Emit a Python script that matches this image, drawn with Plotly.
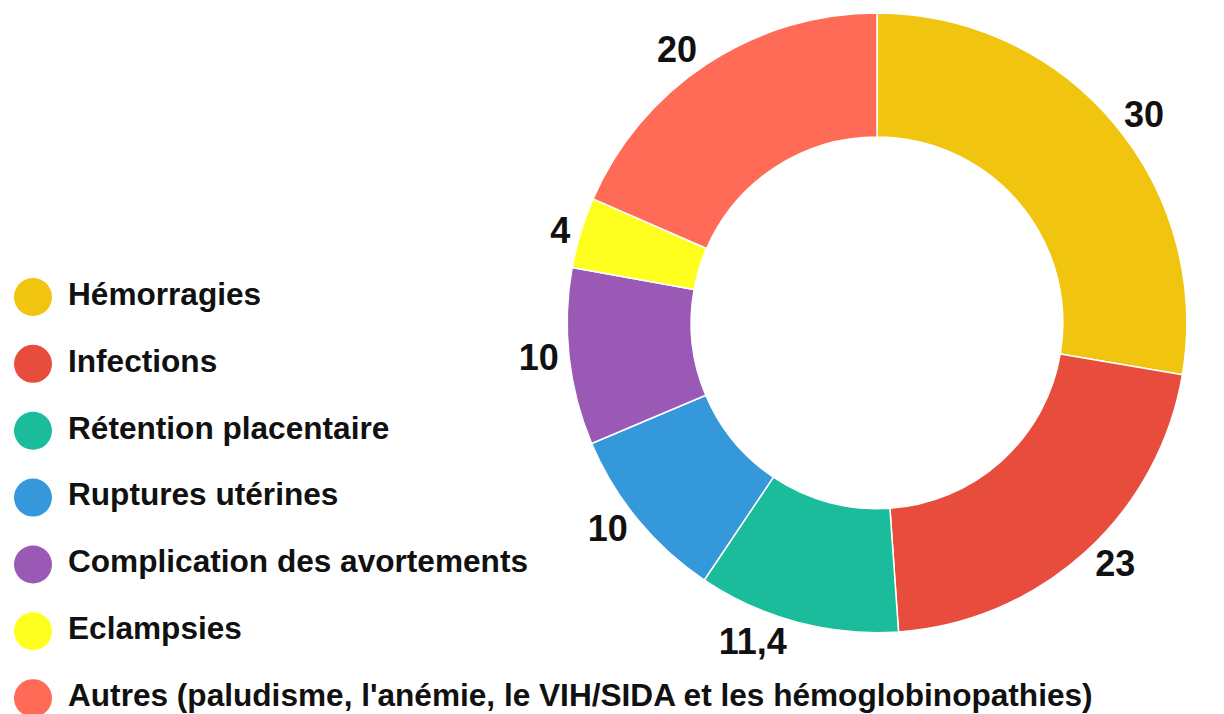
import plotly.graph_objects as go

categories = ["Hémorragies", "Infections", "Rétention placentaire", "Ruptures utérines",
              "Complication des avortements", "Eclampsies",
              "Autres (paludisme, l'anémie, le VIH/SIDA et les hémoglobinopathies)"]
values = [30, 23, 11.4, 10, 10, 4, 20]
colors = ["#F1C40F", "#E74C3C", "#1ABC9C", "#3498DB", "#9B59B6", "#FFFF1F", "#FF6B56"]

W, H = 1224, 714
FONT = "Liberation Sans, Arial, sans-serif"

fig = go.Figure()

# Donut (figure coordinates; page body adds an 8px offset)
cx, cy, r = 869, 312, 312
fig.add_trace(go.Pie(
    values=values,
    labels=categories,
    marker=dict(colors=colors, line=dict(color="white", width=1.5)),
    hole=0.6,
    sort=False,
    direction="clockwise",
    rotation=0,
    textinfo="value",
    texttemplate="<b>%{value}</b>",
    textposition="outside",
    outsidetextfont=dict(family=FONT, size=36, color="#111"),
    showlegend=False,
    hoverinfo="label+value",
    domain=dict(x=[(cx - r) / W, (cx + r) / W],
                y=[max(0, 1 - (cy + r) / H), min(1, 1 - (cy - r) / H)]),
))

# Legend drawn as a categorical scatter on its own axes
fig.add_trace(go.Scatter(
    x=[0] * len(categories), y=categories, mode="markers",
    marker=dict(size=38, color=colors, line=dict(width=0)),
    xaxis="x", yaxis="y", showlegend=False, hoverinfo="skip", cliponaxis=False,
))
fig.add_trace(go.Scatter(
    x=[1.4] * len(categories), y=categories, mode="text",
    text=["<b>" + c + "</b>" for c in categories],
    textposition="middle right",
    textfont=dict(family=FONT, size=31.6, color="#111"),
    xaxis="x", yaxis="y", showlegend=False, hoverinfo="skip", cliponaxis=False,
))

fig.update_layout(
    width=W, height=H,
    margin=dict(l=0, r=0, t=0, b=0),
    paper_bgcolor="white", plot_bgcolor="rgba(0,0,0,0)",
    separators=", ",
    xaxis=dict(domain=[0, 0.5], range=[-1, 23.48], visible=False, fixedrange=True),
    yaxis=dict(domain=[0, 1], type="category", range=[6.3565, -4.2475], visible=False, fixedrange=True),
)

fig.write_html("out.html")
